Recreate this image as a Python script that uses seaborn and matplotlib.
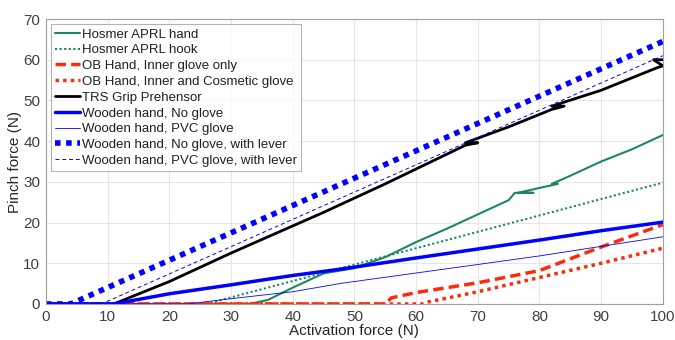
import matplotlib
matplotlib.use("Agg")
import matplotlib.pyplot as plt
import seaborn as sns
import pandas as pd
import numpy as np

# curves (activation force N -> pinch force N)
hosmer_hand_x = [0, 33, 36, 40, 45, 50, 55, 60, 65, 70, 75, 76, 79, 76.5, 80, 83, 82, 85, 90, 95, 100]
hosmer_hand_y = [0, 0, 1.0, 4.0, 7.5, 8.8, 11.5, 15.2, 18.5, 22.0, 25.5, 27.3, 27.3, 27.3, 28.5, 29.5, 29.5, 31.5, 35.0, 38.0, 41.5]

hosmer_hook_x = [0, 26, 100]
hosmer_hook_y = [0, 0, 29.8]

ob_inner_x = [0, 55, 56, 60, 70, 80, 90, 100]
ob_inner_y = [0, 0, 1.5, 2.8, 5.2, 8.2, 14.0, 19.5]

ob_cosmetic_x = [0, 61, 62, 70, 80, 90, 100]
ob_cosmetic_y = [0, 0, 0.5, 3.0, 6.5, 10.0, 13.7]

trs_x = [0, 11, 20, 30, 45, 55, 68, 70, 68, 75, 82, 84, 82, 90, 99, 100, 98.5, 100]
trs_y = [0, 0, 5.5, 12.5, 22.5, 29.5, 39.0, 39.6, 39.6, 43.5, 47.8, 48.6, 48.6, 52.5, 58.0, 58.5, 60.0, 60.0]

wood_x = [0, 11, 20, 30, 40, 48, 60, 70, 80, 90, 100]
wood_y = [0, 0, 2.5, 4.7, 7.0, 8.6, 11.3, 13.5, 15.7, 18.0, 20.1]

wood_pvc_x = [0, 23, 30, 40, 48, 60, 80, 100]
wood_pvc_y = [0, 0, 1.3, 3.0, 5.1, 7.6, 11.8, 16.5]

wood_lever_x = [0, 4, 100]
wood_lever_y = [0, 0, 64.5]

wood_pvc_lever_x = [0, 9, 100]
wood_pvc_lever_y = [0, 0, 61.0]

labels = [
    "Hosmer APRL hand",
    "Hosmer APRL hook",
    "OB Hand, Inner glove only",
    "OB Hand, Inner and Cosmetic glove",
    "TRS Grip Prehensor",
    "Wooden hand, No glove",
    "Wooden hand, PVC glove",
    "Wooden hand, No glove, with lever",
    "Wooden hand, PVC glove, with lever",
]
curves = [
    (hosmer_hand_x, hosmer_hand_y),
    (hosmer_hook_x, hosmer_hook_y),
    (ob_inner_x, ob_inner_y),
    (ob_cosmetic_x, ob_cosmetic_y),
    (trs_x, trs_y),
    (wood_x, wood_y),
    (wood_pvc_x, wood_pvc_y),
    (wood_lever_x, wood_lever_y),
    (wood_pvc_lever_x, wood_pvc_lever_y),
]

green = "#1a8a5c"
red = "#ff2a0a"
blue = "#0000ff"
styles = [
    dict(color=green, linestyle="-", linewidth=1.5),
    dict(color=green, linestyle=(0, (1, 1.2)), linewidth=1.5),
    dict(color=red, linestyle=(0, (3, 1.5)), linewidth=2.5),
    dict(color=red, linestyle=(0, (1, 1.2)), linewidth=2.5),
    dict(color="black", linestyle="-", linewidth=2.0),
    dict(color=blue, linestyle="-", linewidth=2.5),
    dict(color=blue, linestyle="-", linewidth=0.6),
    dict(color=blue, linestyle=(0, (1, 1)), linewidth=4.0),
    dict(color=blue, linestyle=(0, (4, 3)), linewidth=0.7),
]

sns.set_style("white")
plt.rcParams["font.family"] = ["Liberation Sans", "DejaVu Sans"]

fig = plt.figure(figsize=(6.75, 3.4), dpi=100)
ax = fig.add_axes([0.068, 0.106, 0.914, 0.838])

for lab, (xs, ys), st in zip(labels, curves, styles):
    df = pd.DataFrame({"x": xs, "y": ys})
    sns.lineplot(data=df, x="x", y="y", ax=ax, sort=False, estimator=None,
                 label=lab, **st)

ax.set_xlim(0, 100)
ax.set_ylim(0, 70)
ax.set_xticks(np.arange(0, 101, 10))
ax.set_yticks(np.arange(0, 71, 10))
ax.grid(True, color="#e6e6e6", linewidth=0.8)
ax.set_axisbelow(True)
for sp in ax.spines.values():
    sp.set_color("#a0a0a0")
    sp.set_linewidth(0.8)
ax.tick_params(axis="both", direction="in", length=3, color="#808080",
               labelsize=11, labelcolor="#404040", pad=4)
ax.set_xlabel("Activation force (N)", fontsize=11, color="#262626", labelpad=0)
ax.set_ylabel("Pinch force (N)", fontsize=11, color="#262626", labelpad=1)

leg = ax.legend(loc="upper left", fontsize=9.5, frameon=True, fancybox=False,
                handlelength=1.9, handletextpad=0.15, borderpad=0.3,
                labelspacing=0.27, borderaxespad=0.4)
leg.get_frame().set_edgecolor("#a0a0a0")
leg.get_frame().set_linewidth(0.8)
for t in leg.get_texts():
    t.set_color("#202020")

fig.savefig("out.png", dpi=100)
